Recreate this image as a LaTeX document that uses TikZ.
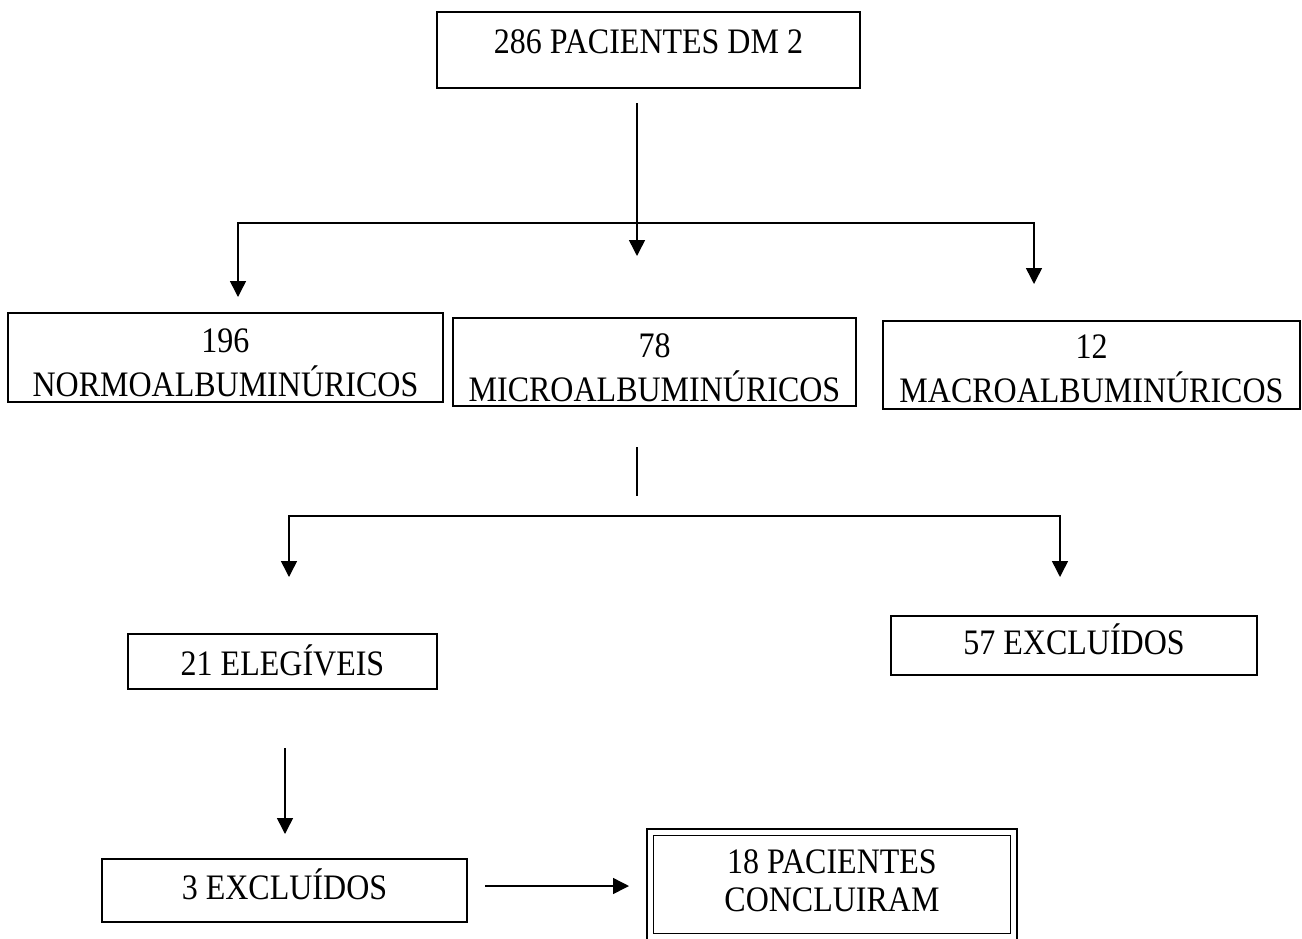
\documentclass[tikz,border=0pt]{standalone}
\usepackage{fontspec}
\setmainfont{Liberation Serif}
\usetikzlibrary{arrows.meta}
\newcommand\boxtext[2]{\raisebox{#1}[\height][\depth]{\scalebox{1}[1.12]{\begin{tabular}{@{}c@{}}#2\end{tabular}}}}
\begin{document}
\begin{tikzpicture}[x=1pt, y=-1pt,
  box/.style={draw, line width=1.5pt, anchor=north west, inner sep=0pt, outer sep=0pt,
    font=\fontsize{32}{39.3}\selectfont},
  conn/.style={line width=1.5pt},
  arr/.style={conn, -{Triangle[width=16pt,length=16pt]}},
  arr2/.style={conn, {Triangle[width=16pt,length=16pt]}-{Triangle[width=16pt,length=16pt]}}]
\useasboundingbox (0,0) rectangle (1302,938);
\fill[white] (0,0) rectangle (1302,938);

% boxes
\node[box, minimum width=423pt, minimum height=76pt] (top) at (437,12)
  {\boxtext{5.8pt}{286 PACIENTES DM 2}};
\node[box, minimum width=435pt, minimum height=89pt] (normo) at (8,313)
  {\boxtext{-8.4pt}{196\\NORMOALBUMINÚRICOS}};
\node[box, minimum width=403pt, minimum height=84pt] (micro) at (453,318)
  {\boxtext{-9pt}{78\\MICROALBUMINÚRICOS}};
\node[box, minimum width=417pt, minimum height=84pt] (macro) at (883,321)
  {\boxtext{-7pt}{12\\MACROALBUMINÚRICOS}};
\node[box, minimum width=309pt, minimum height=55pt] (eleg) at (128,634)
  {\boxtext{-4.7pt}{21 ELEGÍVEIS}};
\node[box, minimum width=366pt, minimum height=59pt] (exc57) at (891,616)
  {\boxtext{0pt}{57 EXCLUÍDOS}};
\node[box, minimum width=365pt, minimum height=63pt] (exc3) at (102,859)
  {\boxtext{0pt}{3 EXCLUÍDOS}};
\node[box, line width=2.5pt, minimum width=370pt, minimum height=111pt,
  font=\fontsize{32}{34}\selectfont] (fin) at (647,829)
  {\boxtext{0pt}{18 PACIENTES\\CONCLUIRAM}};
\draw[line width=1pt] ([xshift=6.5pt,yshift=-6.5pt]fin.north west)
  rectangle ([xshift=-6.5pt,yshift=6.5pt]fin.south east);

% connector points
\coordinate (a1) at (637,103);
\coordinate (a2) at (637,256);
\coordinate (bL) at (238,297);
\coordinate (hL) at (238,223);
\coordinate (hR) at (1034,223);
\coordinate (bR) at (1034,284);
\coordinate (c1) at (637,447);
\coordinate (c2) at (637,496);
\coordinate (dL) at (289,577);
\coordinate (gL) at (289,516);
\coordinate (gR) at (1060,516);
\coordinate (dR) at (1060,577);
\coordinate (e1) at (285,748);
\coordinate (e2) at (285,834);
\coordinate (f1) at (485,886);
\coordinate (f2) at (629,886);

% connectors
\draw[arr] (a1) -- (a2);
\draw[arr2] (bL) -- (hL) -- (hR) -- (bR);
\draw[conn] (c1) -- (c2);
\draw[arr2] (dL) -- (gL) -- (gR) -- (dR);
\draw[arr] (e1) -- (e2);
\draw[arr] (f1) -- (f2);
\end{tikzpicture}
\end{document}
